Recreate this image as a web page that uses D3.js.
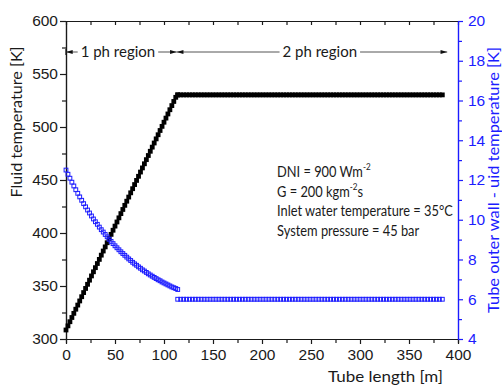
<!DOCTYPE html>
<html>
<head>
<meta charset="utf-8">
<script src="https://cdn.jsdelivr.net/npm/d3@7"></script>
<style>
  html, body { margin: 0; padding: 0; background: #fff; }
  svg { display: block; font-family: Lato, "Noto Sans", sans-serif; }
</style>
</head>
<body>
<svg id="chart" width="502" height="387"></svg>
<script>
// tube length stations [m], single phase region
const len1ph = [0, 2, 4, 6, 8, 10, 12, 14, 16, 18, 20, 22, 24, 26, 28, 30, 32, 34, 36, 38,
  40, 42, 44, 46, 48, 50, 52, 54, 56, 58, 60, 62, 64, 66, 68, 70, 72, 74, 76, 78,
  80, 82, 84, 86, 88, 90, 92, 94, 96, 98, 100, 102, 104, 106, 108, 110, 112, 114];
// fluid temperature [K]
const fluid1ph = [308.5, 312.4, 316.3, 320.3, 324.2, 328.1, 332.0, 335.9, 339.9, 343.8,
  347.7, 351.6, 355.5, 359.5, 363.4, 367.3, 371.2, 375.1, 379.1, 383.0,
  386.9, 390.8, 394.7, 398.7, 402.6, 406.5, 410.4, 414.3, 418.3, 422.2,
  426.1, 430.0, 433.9, 437.9, 441.8, 445.7, 449.6, 453.5, 457.5, 461.4,
  465.3, 469.2, 473.1, 477.1, 481.0, 484.9, 488.8, 492.7, 496.7, 500.6,
  504.5, 508.4, 512.3, 516.3, 520.2, 524.1, 528.0, 530.3];
// tube outer wall - fluid temperature [K]
const wall1ph = [12.50, 12.29, 12.09, 11.89, 11.70, 11.51, 11.33, 11.15, 10.98, 10.81,
  10.65, 10.49, 10.34, 10.19, 10.04, 9.90, 9.77, 9.63, 9.50, 9.38,
  9.26, 9.14, 9.02, 8.91, 8.80, 8.69, 8.59, 8.49, 8.39, 8.30,
  8.21, 8.12, 8.03, 7.95, 7.86, 7.78, 7.71, 7.63, 7.56, 7.48,
  7.42, 7.35, 7.28, 7.22, 7.16, 7.10, 7.04, 6.98, 6.93, 6.87,
  6.82, 6.77, 6.72, 6.67, 6.62, 6.58, 6.54, 6.49];

// two phase region
const len2ph = [114, 117, 120, 123, 126, 129, 132, 135, 138, 141, 144, 147, 150, 153, 156,
  159, 162, 165, 168, 171, 174, 177, 180, 183, 186, 189, 192, 195, 198, 201, 204, 207,
  210, 213, 216, 219, 222, 225, 228, 231, 234, 237, 240, 243, 246, 249, 252, 255, 258,
  261, 264, 267, 270, 273, 276, 279, 282, 285, 288, 291, 294, 297, 300, 303, 306, 309,
  312, 315, 318, 321, 324, 327, 330, 333, 336, 339, 342, 345, 348, 351, 354, 357, 360,
  363, 366, 369, 372, 375, 378, 381, 384];
const fluid2ph = [530.3, 530.3, 530.3, 530.3, 530.3, 530.3, 530.3, 530.3, 530.3, 530.3,
  530.3, 530.3, 530.3, 530.3, 530.3, 530.3, 530.3, 530.3, 530.3, 530.3, 530.3, 530.3,
  530.3, 530.3, 530.3, 530.3, 530.3, 530.3, 530.3, 530.3, 530.3, 530.3, 530.3, 530.3,
  530.3, 530.3, 530.3, 530.3, 530.3, 530.3, 530.3, 530.3, 530.3, 530.3, 530.3, 530.3,
  530.3, 530.3, 530.3, 530.3, 530.3, 530.3, 530.3, 530.3, 530.3, 530.3, 530.3, 530.3,
  530.3, 530.3, 530.3, 530.3, 530.3, 530.3, 530.3, 530.3, 530.3, 530.3, 530.3, 530.3,
  530.3, 530.3, 530.3, 530.3, 530.3, 530.3, 530.3, 530.3, 530.3, 530.3, 530.3, 530.3,
  530.3, 530.3, 530.3, 530.3, 530.3, 530.3, 530.3, 530.3, 530.3];
const wall2ph = [6.0, 6.0, 6.0, 6.0, 6.0, 6.0, 6.0, 6.0, 6.0, 6.0, 6.0, 6.0, 6.0, 6.0, 6.0,
  6.0, 6.0, 6.0, 6.0, 6.0, 6.0, 6.0, 6.0, 6.0, 6.0, 6.0, 6.0, 6.0, 6.0, 6.0, 6.0, 6.0,
  6.0, 6.0, 6.0, 6.0, 6.0, 6.0, 6.0, 6.0, 6.0, 6.0, 6.0, 6.0, 6.0, 6.0, 6.0, 6.0, 6.0,
  6.0, 6.0, 6.0, 6.0, 6.0, 6.0, 6.0, 6.0, 6.0, 6.0, 6.0, 6.0, 6.0, 6.0, 6.0, 6.0, 6.0,
  6.0, 6.0, 6.0, 6.0, 6.0, 6.0, 6.0, 6.0, 6.0, 6.0, 6.0, 6.0, 6.0, 6.0, 6.0, 6.0, 6.0,
  6.0, 6.0, 6.0, 6.0, 6.0, 6.0, 6.0, 6.0];

// region arrows (tube length at arrow tips)
const regions = [
  { label: "1 ph region", from: 0, to: 113, textAt: 53 },
  { label: "2 ph region", from: 113, to: 389, textAt: 259 }
];

// ticks
const xMajor = [0, 50, 100, 150, 200, 250, 300, 350, 400];
const xMinor = [25, 75, 125, 175, 225, 275, 325, 375];
const yMajor = [300, 350, 400, 450, 500, 550, 600];
const yMinor = [325, 375, 425, 475, 525, 575];
const y2Major = [4, 6, 8, 10, 12, 14, 16, 18, 20];
const y2Minor = [5, 7, 9, 11, 13, 15, 17, 19];

const notes = [
  ["DNI = 900 Wm", "-2", ""],
  ["G = 200 kgm", "-2", "s"],
  ["Inlet water temperature = 35\u00B0C", "", ""],
  ["System pressure = 45 bar", "", ""]
];

const BLUE = "#1c1cff";
const INK = "#1a1a1a";
const L = 66, R = 458, T = 21, B = 339;

const svg = d3.select("#chart");

const x = d3.scaleLinear().domain([0, 400]).range([L, R]);
const y = d3.scaleLinear().domain([300, 600]).range([B, T]);
const y2 = d3.scaleLinear().domain([4, 20]).range([B, T]);

// axes
const styleAxis = function(g, color) {
  g.select(".domain").attr("stroke", color).attr("stroke-width", 1.2);
  g.selectAll(".tick line").attr("stroke", color).attr("stroke-width", 1.2);
  g.selectAll(".tick text").attr("fill", color).style("font-size", "15.5px");
};

// bottom
svg.append("g").attr("transform", `translate(0,${B})`)
  .call(d3.axisBottom(x).tickValues(xMinor).tickSize(4).tickFormat(""))
  .call(g => styleAxis(g, INK));
svg.append("g").attr("transform", `translate(0,${B})`)
  .call(d3.axisBottom(x).tickValues(xMajor).tickSize(5).tickSizeOuter(0).tickPadding(5).tickFormat(d3.format("d")))
  .call(g => styleAxis(g, INK));

// top
svg.append("g").attr("transform", `translate(0,${T})`)
  .call(d3.axisTop(x).tickValues(xMajor.concat(xMinor)).tickSize(-4).tickSizeOuter(0).tickFormat(""))
  .call(g => styleAxis(g, INK));

// left
svg.append("g").attr("transform", `translate(${L},0)`)
  .call(d3.axisLeft(y).tickValues(yMinor).tickSize(4).tickFormat(""))
  .call(g => styleAxis(g, INK));
svg.append("g").attr("transform", `translate(${L},0)`)
  .call(d3.axisLeft(y).tickValues(yMajor).tickSize(6).tickSizeOuter(0).tickPadding(2).tickFormat(d3.format("d")))
  .call(g => styleAxis(g, INK));

// right (blue)
svg.append("g").attr("transform", `translate(${R},0)`)
  .call(d3.axisRight(y2).tickValues(y2Minor).tickSize(4).tickFormat(""))
  .call(g => styleAxis(g, BLUE));
svg.append("g").attr("transform", `translate(${R},0)`)
  .call(d3.axisRight(y2).tickValues(y2Major).tickSize(5).tickSizeOuter(0).tickPadding(5).tickFormat(d3.format("d")))
  .call(g => styleAxis(g, BLUE));

// axis titles
svg.append("text")
  .attr("transform", `translate(22,122) rotate(-90)`)
  .attr("text-anchor", "middle")
  .style("font-size", "15px")
  .attr("textLength", 151).attr("lengthAdjust", "spacingAndGlyphs")
  .attr("fill", INK)
  .text("Fluid temperature [K]");

svg.append("text")
  .attr("x", 328).attr("y", 382)
  .style("font-size", "16px")
  .attr("textLength", 115).attr("lengthAdjust", "spacingAndGlyphs")
  .attr("fill", INK)
  .text("Tube length [m]");

svg.append("text")
  .attr("transform", `translate(499,180) rotate(-90)`)
  .attr("text-anchor", "middle")
  .style("font-size", "15px")
  .attr("textLength", 266).attr("lengthAdjust", "spacingAndGlyphs")
  .attr("fill", BLUE)
  .text("Tube outer wall - uid temperature [K]");

// data points
const pts = (xs, ys) => xs.map((d, i) => ({ x: d, y: ys[i] }));
const black = pts(len1ph, fluid1ph).concat(pts(len2ph, fluid2ph));
const blue = pts(len1ph, wall1ph).concat(pts(len2ph, wall2ph));

const S = 4.8;
svg.append("g").selectAll("rect")
  .data(black).enter().append("rect")
  .attr("x", d => x(d.x) - S / 2)
  .attr("y", d => y(d.y) - S / 2)
  .attr("width", S).attr("height", S)
  .attr("fill", "#000");

const SB = 3.8;
svg.append("g").selectAll("rect")
  .data(blue).enter().append("rect")
  .attr("x", d => x(d.x) - SB / 2)
  .attr("y", d => y2(d.y) - SB / 2)
  .attr("width", SB).attr("height", SB)
  .attr("fill", "none")
  .attr("stroke", BLUE)
  .attr("stroke-width", 1);

// region arrows
const AY = 52;
const defs = svg.append("defs");
defs.append("marker").attr("id", "ah")
  .attr("viewBox", "0 0 10 6").attr("refX", 10).attr("refY", 3)
  .attr("markerWidth", 9).attr("markerHeight", 4).attr("orient", "auto")
  .attr("markerUnits", "userSpaceOnUse")
  .append("path").attr("d", "M0,0 L10,3 L0,6 Z").attr("fill", "#111");

regions.forEach(function(r) {
  const g = svg.append("g");
  const t = g.append("text")
    .attr("x", x(r.textAt)).attr("y", AY + 5)
    .attr("text-anchor", "middle")
    .style("font-size", "15px")
    .attr("fill", INK)
    .text(r.label);
  const w = t.node().getComputedTextLength();
  g.append("line")
    .attr("x1", x(r.textAt) - w / 2 - 3).attr("x2", x(r.from))
    .attr("y1", AY).attr("y2", AY)
    .attr("stroke", "#555").attr("stroke-width", 1)
    .attr("marker-end", "url(#ah)");
  g.append("line")
    .attr("x1", x(r.textAt) + w / 2 + 3).attr("x2", x(r.to))
    .attr("y1", AY).attr("y2", AY)
    .attr("stroke", "#555").attr("stroke-width", 1)
    .attr("marker-end", "url(#ah)");
});
// short bar at the start
svg.append("line").attr("x1", x(0)).attr("x2", x(0)).attr("y1", AY - 3).attr("y2", AY + 3)
  .attr("stroke", "#111").attr("stroke-width", 1.2);

// notes - 15px text squeezed horizontally so the longest line spans the figure's width
const NOTE_X = 277, NOTE_W = 176, NFS = 15;
const probe = svg.append("text").style("font-size", NFS + "px").text(notes[2][0]);
const k = NOTE_W / probe.node().getComputedTextLength();
probe.remove();

const nt = svg.append("g").attr("transform", `translate(${NOTE_X},0) scale(${k},1)`)
  .append("text").attr("fill", INK).style("font-size", NFS + "px");
notes.forEach(function(n, i) {
  const line = nt.append("tspan").attr("x", 0).attr("y", 177 + i * 19.7);
  line.append("tspan").text(n[0]);
  if (n[1]) {
    line.append("tspan").attr("dy", -7).style("font-size", "9.5px").text(n[1]);
    line.append("tspan").attr("dy", 7).text(n[2]);
  }
});
</script>
</body>
</html>
